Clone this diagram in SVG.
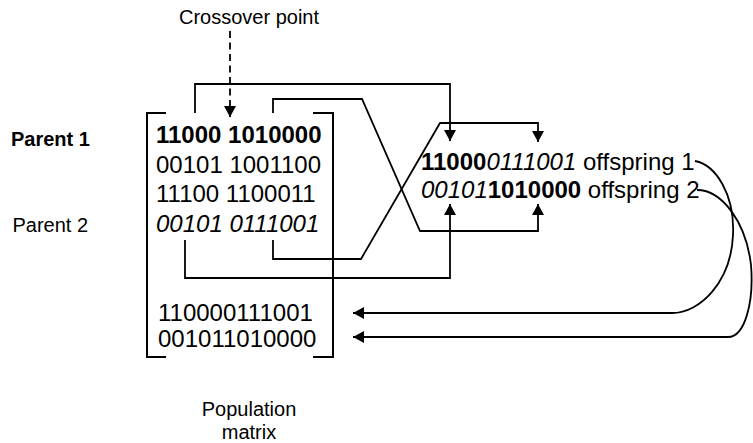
<svg xmlns="http://www.w3.org/2000/svg" width="753" height="443" viewBox="0 0 753 443">
  <style>
    text { font-family: "Liberation Sans", Arial, sans-serif; fill: #000; }
    .lbl { font-size: 20px; }
    .bits { font-size: 24px; }
    .b { font-weight: bold; }
    .i { font-style: italic; }
    .ln { fill: none; stroke: #000; stroke-width: 1.8; }
    .br { fill: none; stroke: #000; stroke-width: 2; }
  </style>
  <defs>
    <marker id="head" viewBox="0 0 11 12" refX="11" refY="6" markerWidth="11" markerHeight="12" markerUnits="userSpaceOnUse" orient="auto">
      <path d="M0,0 L11,6 L0,12 z" fill="#000"/>
    </marker>
  </defs>

  <rect width="753" height="443" fill="#fff"/>

  <!-- labels -->
  <g id="crossover-label">
    <text class="lbl" x="249" y="24" text-anchor="middle">Crossover point</text>
  </g>
  <g id="parent1-label">
    <text class="lbl b" x="11" y="145.5">Parent 1</text>
  </g>
  <g id="parent2-label">
    <text class="lbl" x="12.5" y="231.5">Parent 2</text>
  </g>
  <g id="population-label">
    <text class="lbl" x="249" y="415.5" text-anchor="middle">Population</text>
    <text class="lbl" x="249" y="439" text-anchor="middle">matrix</text>
  </g>

  <!-- population matrix -->
  <g id="matrix">
    <path class="br" d="M166,113 H147 V357 H166"/>
    <path class="br" d="M313,113 H333 V357 H313"/>
    <text class="bits b" x="156" y="143.3">11000 1010000</text>
    <text class="bits" x="156" y="172.8">00101 1001100</text>
    <text class="bits" x="156" y="202.3">11100 1100011</text>
    <text class="bits i" x="156" y="231.7">00101 0111001</text>
    <text class="bits" x="158" y="320.7">110000111001</text>
    <text class="bits" x="158" y="346.7">001011010000</text>
  </g>

  <!-- offspring -->
  <g id="offspring">
    <text class="bits" x="421" y="170"><tspan class="b">11000</tspan><tspan class="i">0111001</tspan> offspring 1</text>
    <text class="bits" x="421" y="198.3"><tspan class="i">00101</tspan><tspan class="b">1010000</tspan> offspring 2</text>
  </g>

  <!-- connectors -->
  <g id="connectors">
    <path class="ln" d="M230,31 V117" stroke-dasharray="7 4.5" marker-end="url(#head)"/>
    <path class="ln" d="M195,113 V84 H450 V141" marker-end="url(#head)"/>
    <path class="ln" d="M273,113 V99 H362 L420,231 H538 V204" marker-end="url(#head)"/>
    <path class="ln" d="M273,240 V259 H361 L440,123 H538 V142" marker-end="url(#head)"/>
    <path class="ln" d="M185,240 V278 H450 V204" marker-end="url(#head)"/>
    <path class="ln" d="M695,161 C716,165 735,195 733,235 C731,282 700,313 672,313 H353" marker-end="url(#head)"/>
    <path class="ln" d="M697,190 C722,190 746,222 751,265 C754,302 745,337 728,337 H353" marker-end="url(#head)"/>
  </g>
</svg>
